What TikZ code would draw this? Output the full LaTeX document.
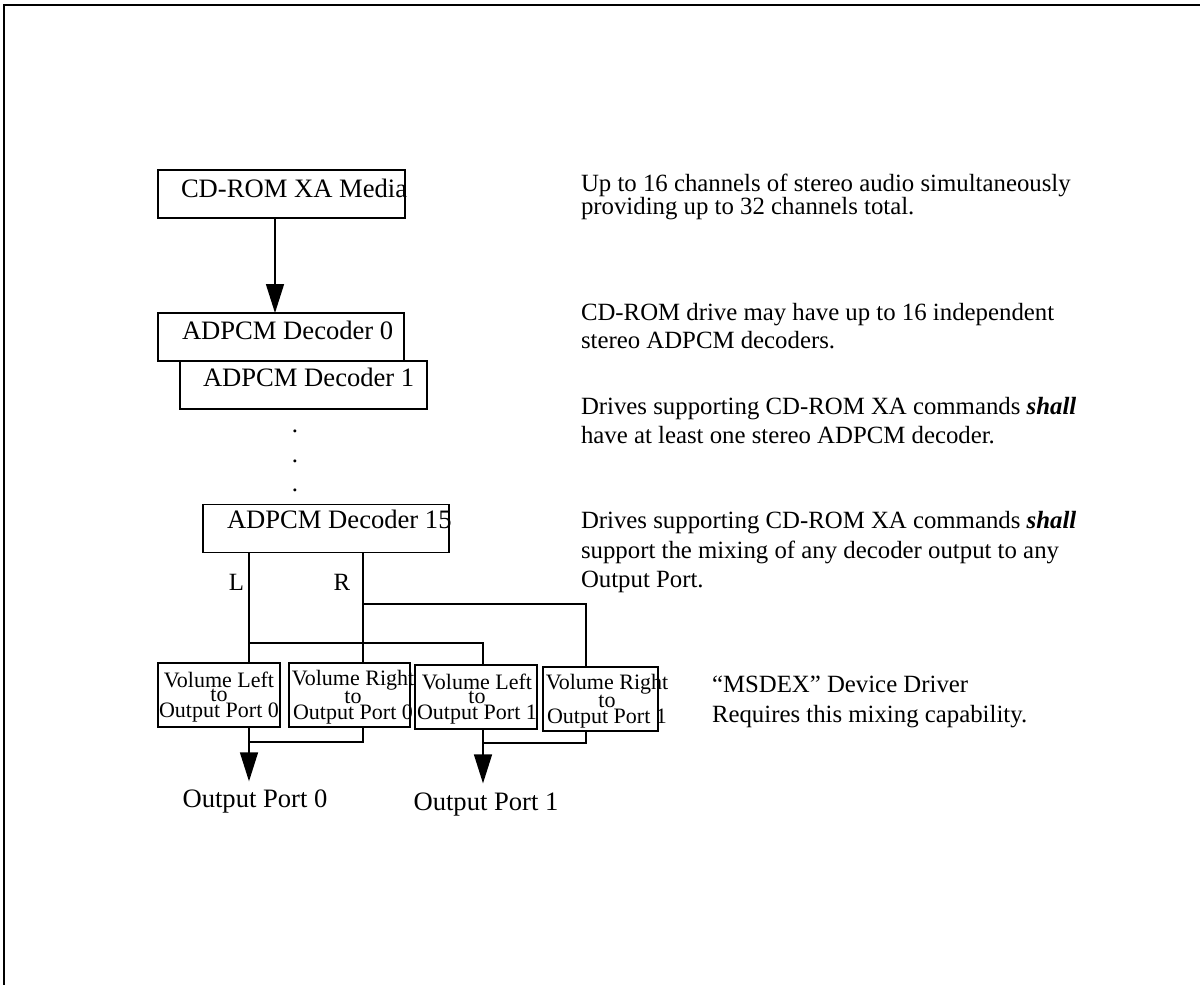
\documentclass[tikz,border=0pt]{standalone}
\usepackage{fontspec}
\setmainfont{Liberation Serif}
\usetikzlibrary{arrows.meta,calc}
\begin{document}
\begin{tikzpicture}[x=1pt,y=-1pt,
  every node/.style={inner sep=0pt, outer sep=0pt},
  txt/.style={font=\fontsize{24.8}{29}\selectfont},
  bigtxt/.style={font=\fontsize{26.6}{30}\selectfont},
  boxtext/.style={bigtxt, anchor=base west},
  note/.style={txt, anchor=base west},
  voltext/.style={font=\fontsize{22}{14.5}\selectfont, align=center},
  box/.style={draw, line width=1.5pt, minimum width=#1, minimum height=48pt},
  volbox/.style={draw, line width=1.5pt, minimum width=#1, minimum height=64pt},
  wire/.style={line width=1.5pt},
  arr/.style={wire, -{Triangle[length=29pt,width=18pt]}}
]
\useasboundingbox (0,0) rectangle (1200,985);
% frame
\draw[line width=2pt] (1200,5) -- (4,5) -- (4,985);

% boxes
\node[box=247pt] (media) at (281.5,194) {};
\node[box=246pt] (dec0) at (281,337) {};
\node[box=247pt, fill=white] (dec1) at (303.5,385) {};
\node[box=246pt] (dec15) at (326,528.5) {};
\node[boxtext] (tmedia) at ($(media.north west)+(23,27)$) {CD-ROM XA Media};
\node[boxtext] (tdec0) at ($(dec0.north west)+(24,26)$) {ADPCM Decoder 0};
\node[boxtext] (tdec1) at ($(dec1.north west)+(23,25)$) {ADPCM Decoder 1};
\node[boxtext] (tdec15) at ($(dec15.north west)+(24,24)$) {ADPCM Decoder 15};

% dots
\node[txt, anchor=base] (dot1) at (295,432.5) {.};
\node[txt, anchor=base] (dot2) at (295,462.5) {.};
\node[txt, anchor=base] (dot3) at (295,491.5) {.};

% volume boxes
\node[volbox=122pt] (vol1) at (219,695) {};
\node[volbox=121pt] (vol2) at (349.5,695) {};
\node[volbox=122pt] (vol3) at (476,697) {};
\node[volbox=115pt] (vol4) at (600.5,699) {};
\node[voltext] (tv1) at (219,697) {Volume Left\\to\\Output Port 0};
\node[voltext] (tv2) at (353,697) {Volume Right\\to\\Output Port 0};
\node[voltext] (tv3) at (477,699) {Volume Left\\to\\Output Port 1};
\node[voltext] (tv4) at (607,701) {Volume Right\\to\\Output Port 1};

% output labels
\node[bigtxt, anchor=base] (out0) at (255,807) {Output Port 0};
\node[bigtxt, anchor=base] (out1) at (486,810) {Output Port 1};

% L / R labels
\node[txt, anchor=base] (lL) at (236.5,590) {L};
\node[txt, anchor=base] (lR) at (342,590) {R};

% wiring coordinates
\coordinate (Mc) at (275,0);
\coordinate (Lc) at (249,0);
\coordinate (Rc) at (363,0);
\coordinate (Pl) at (483,0);
\coordinate (Pr) at (586,0);
\coordinate (busR) at (0,604);
\coordinate (busL) at (0,643);
\coordinate (m0) at (0,742);
\coordinate (m1) at (0,743);

\draw[arr] (media.south -| Mc) -- (dec0.north -| Mc);
\draw[wire] (dec15.south -| Lc) -- (vol1.north -| Lc);
\draw[wire] (dec15.south -| Rc) -- (vol2.north -| Rc);
\draw[wire] (Rc |- busR) -| (vol4.north -| Pr);
\draw[wire] (Lc |- busL) -| (vol3.north -| Pl);
\draw[wire] (vol2.south -| Rc) |- (Lc |- m0);
\draw[wire] (vol4.south -| Pr) |- (Pl |- m1);
\draw[arr] (vol1.south -| Lc) -- ($(out0.north -| Lc)+(0,-8)$);
\draw[arr] (vol3.south -| Pl) -- ($(out1.north -| Pl)+(0,-9)$);

% notes
\node[note] (n1a) at (581,191) {Up to 16 channels of stereo audio simultaneously};
\node[note] (n1b) at (581,214) {providing up to 32 channels total.};
\node[note] (n2a) at (581,320) {CD-ROM drive may have up to 16 independent};
\node[note] (n2b) at (581,348) {stereo ADPCM decoders.};
\node[note] (n3a) at (581,414) {Drives supporting CD-ROM XA commands \textbf{\textit{shall}}};
\node[note] (n3b) at (581,443) {have at least one stereo ADPCM decoder.};
\node[note] (n4a) at (581,528) {Drives supporting CD-ROM XA commands \textbf{\textit{shall}}};
\node[note] (n4b) at (581,558) {support the mixing of any decoder output to any};
\node[note] (n4c) at (581,587) {Output Port.};
\node[note] (n5a) at (712,692) {“MSDEX” Device Driver};
\node[note] (n5b) at (712,722) {Requires this mixing capability.};
\end{tikzpicture}
\end{document}
